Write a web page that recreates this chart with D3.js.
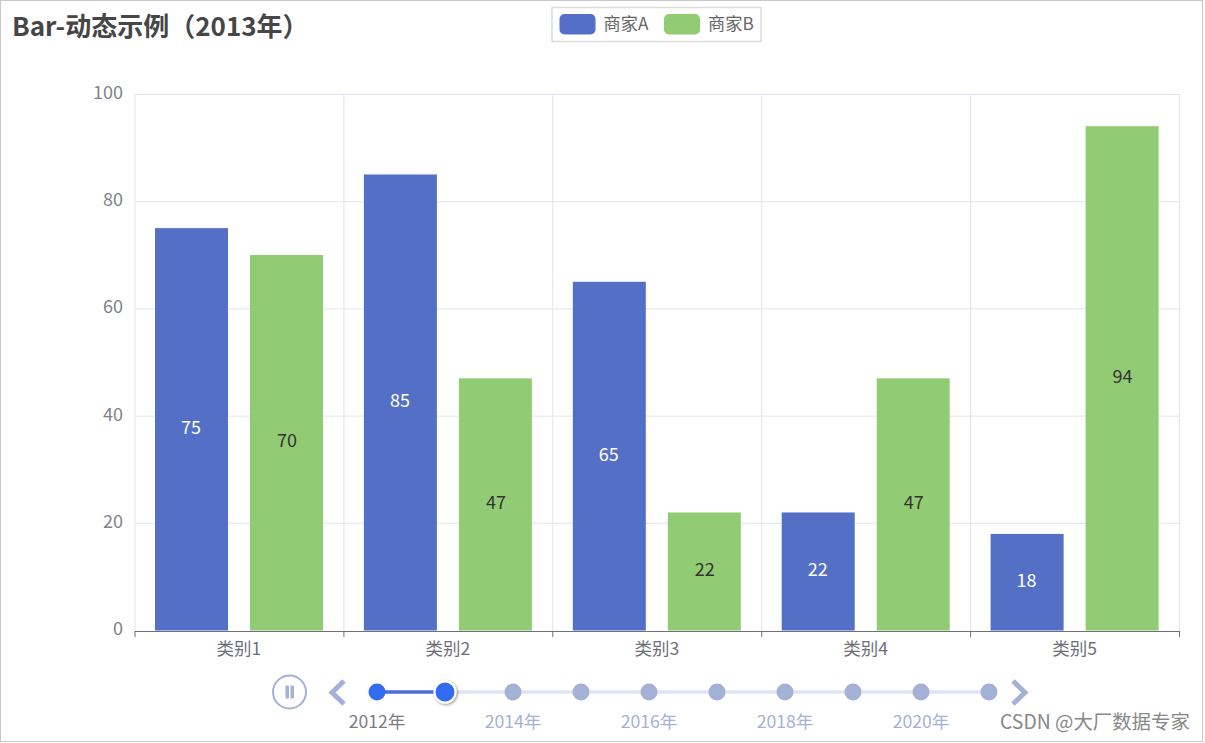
<!DOCTYPE html>
<html><head><meta charset="utf-8">
<script src="https://cdn.jsdelivr.net/npm/d3@7"></script>
<style>html,body{margin:0;padding:0;background:#fff}svg{display:block}text{font-family:"Noto Sans CJK SC","Noto Sans",sans-serif}</style>
</head><body><svg id="c" width="1205" height="743"></svg>
<script>
const categories=["类别1","类别2","类别3","类别4","类别5"];
const seriesNames=["商家A","商家B"];
const seriesA=[75,85,65,22,18];
const seriesB=[70,47,22,47,94];
const yTicks=[0,20,40,60,80,100];
const years=[2012,2013,2014,2015,2016,2017,2018,2019,2020,2021];
const currentYear=2013;
const colors=["#5470c6","#91cc75"];
const svg=d3.select("#c");
svg.append("rect").attr("x",0.5).attr("y",0.5).attr("width",1202).attr("height",741).attr("fill","#fff").attr("stroke","#c8c8c8");
const x=d3.scaleBand().domain(categories).range([134.5,1179]);
const y=d3.scaleLinear().domain([0,100]).range([631,95]);
const yb=d3.scaleLinear().domain([0,100]).range([630.5,94]);
const grid=svg.append("g");
grid.selectAll(".h").data(yTicks.filter(d=>d>0)).join("line").attr("x1",135).attr("x2",1179).attr("y1",d=>y(d)-.5).attr("y2",d=>y(d)-.5).attr("stroke","#e0e3f2");
const bounds=categories.map(c=>x(c)).concat([x.range()[1]]);
grid.selectAll(".v").data(bounds).join("line").attr("x1",d=>d+.5).attr("x2",d=>d+.5).attr("y1",94.5).attr("y2",631).attr("stroke","#e0e3f2");
const bw=73,off=[20.5,115.5],labelShift=[-.5,.5];
[seriesA,seriesB].forEach((vals,si)=>{
 const g=svg.append("g");
 g.selectAll("rect").data(vals).join("rect").attr("x",(d,i)=>x(categories[i])+off[si]).attr("width",bw).attr("y",d=>yb(d)).attr("height",d=>yb(0)-yb(d)).attr("fill",colors[si]);
 g.selectAll("text").data(vals).join("text").attr("x",(d,i)=>x(categories[i])+off[si]+bw/2+labelShift[si]).attr("y",d=>(yb(d)+yb(0))/2+4.5).attr("text-anchor","middle").attr("font-size",18).attr("fill",si?"#333":"#fff").text(d=>d);
});
svg.append("line").attr("x1",135).attr("x2",1179).attr("y1",631.5).attr("y2",631.5).attr("stroke","#6e7079");
svg.selectAll(".xt").data(bounds).join("line").attr("x1",d=>d+.5).attr("x2",d=>d+.5).attr("y1",631).attr("y2",637).attr("stroke","#6e7079");
svg.selectAll(".xl").data(categories).join("text").attr("x",d=>x(d)+x.bandwidth()/2).attr("y",655).attr("text-anchor","middle").attr("font-size",17.5).attr("fill","#6e7079").text(d=>d);
svg.selectAll(".yl").data(yTicks).join("text").attr("x",123).attr("y",d=>y(d)+4).attr("text-anchor","end").attr("font-size",18).attr("fill","#7f828a").text(d=>d);
svg.append("text").attr("x",12).attr("y",36).attr("font-size",26).attr("font-weight",700).attr("fill","#464646").text("Bar-动态示例（"+currentYear+"年）");
svg.append("rect").attr("x",552).attr("y",7.5).attr("width",209).attr("height",34).attr("fill","#fff").attr("stroke","#dcdcdc").attr("stroke-width",1.5);
const lx=[559.5,664];
seriesNames.forEach((n,i)=>{
 svg.append("rect").attr("x",lx[i]).attr("y",14).attr("width",36).attr("height",20.5).attr("rx",5).attr("fill",colors[i]);
 svg.append("text").attr("x",lx[i]+44).attr("y",29.5).attr("font-size",17.2).attr("fill","#666").text(n);
});
const tx=d3.scalePoint().domain(years).range([377,989]);
const ty=692;
svg.append("line").attr("x1",377).attr("x2",989).attr("y1",ty).attr("y2",ty).attr("stroke","#dfe4f3").attr("stroke-width",3.5);
svg.append("line").attr("x1",377).attr("x2",tx(currentYear)).attr("y1",ty).attr("y2",ty).attr("stroke","#4f6fd8").attr("stroke-width",3.5);
const defs=svg.append("defs");
const fl=defs.append("filter").attr("id","sh").attr("x","-50%").attr("y","-50%").attr("width","200%").attr("height","200%");
fl.append("feDropShadow").attr("dx",1).attr("dy",1).attr("stdDeviation",1.5).attr("flood-color","#000").attr("flood-opacity",.45);
svg.selectAll(".d").data(years.filter(d=>d!==currentYear)).join("circle").attr("cx",d=>tx(d)).attr("cy",ty).attr("r",8.5).attr("fill",d=>d<currentYear?"#316bf0":"#a4b1d7");
svg.append("circle").attr("cx",tx(currentYear)).attr("cy",ty).attr("r",10.5).attr("fill","#316bf0").attr("stroke","#fff").attr("stroke-width",2).attr("filter","url(#sh)");
svg.selectAll(".tl").data(years.filter((d,i)=>i%2===0)).join("text").attr("x",d=>tx(d)).attr("y",727.5).attr("text-anchor","middle").attr("font-size",17.6).attr("fill",d=>d<=currentYear?"#7a7c84":"#a4b1d7").text(d=>d+"年");
svg.append("circle").attr("cx",289.5).attr("cy",692).attr("r",16.5).attr("fill","none").attr("stroke","#a4b1d7").attr("stroke-width",2);
[285.5,290.5].forEach(px=>svg.append("rect").attr("x",px).attr("y",685.5).attr("width",3.5).attr("height",13).attr("rx",1).attr("fill","#a4b1d7"));
svg.append("path").attr("d",d3.line()([[344,681],[332,692.5],[344,704]])).attr("fill","none").attr("stroke","#a4b1d7").attr("stroke-width",5);
svg.append("path").attr("d",d3.line()([[1013,681],[1025,692.5],[1013,704]])).attr("fill","none").attr("stroke","#a4b1d7").attr("stroke-width",5);
svg.append("text").attr("x",1000).attr("y",729).attr("font-size",19.4).attr("fill","#888").text("CSDN @大厂数据专家");
</script></body></html>
